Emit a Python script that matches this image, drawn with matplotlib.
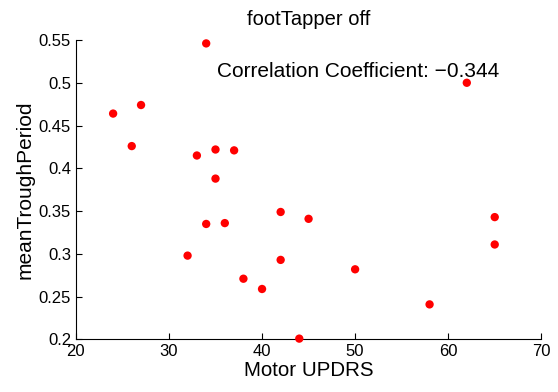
import matplotlib.pyplot as plt

plt.rcParams['font.family'] = ['Liberation Sans', 'DejaVu Sans']

# Motor UPDRS vs mean trough period (foot tapper, off medication)
updrs = [34, 24, 27, 26, 33, 35, 37, 35, 62, 42, 45,
         34, 36, 32, 42, 38, 40, 44, 50, 58, 65, 65]
trough = [0.546, 0.464, 0.474, 0.426, 0.415, 0.422, 0.421, 0.388, 0.500, 0.349, 0.341,
          0.335, 0.336, 0.298, 0.293, 0.271, 0.259, 0.201, 0.282, 0.241, 0.343, 0.311]
corr = -0.344
xticks = [20, 30, 40, 50, 60, 70]
yticks = [0.2, 0.25, 0.3, 0.35, 0.4, 0.45, 0.5, 0.55]
ytick_labels = ['0.2', '0.25', '0.3', '0.35', '0.4', '0.45', '0.5', '0.55']

fig = plt.figure(figsize=(5.58, 3.92), dpi=100)
ax = fig.add_axes([0.136, 0.134, 0.834, 0.764])

ax.scatter(updrs, trough, s=36, color='red', edgecolors='none', zorder=3, clip_on=False)

ax.set_xlim(20, 70)
ax.set_ylim(0.2, 0.55)
ax.set_xticks(xticks)
ax.set_yticks(yticks)
ax.set_yticklabels(ytick_labels)
ax.tick_params(direction='in', length=4, labelsize=12, width=0.8)
for side in ['top', 'right']:
    ax.spines[side].set_visible(False)

ax.set_xlabel('Motor UPDRS', fontsize=14.8, labelpad=1)
ax.set_ylabel('meanTroughPeriod', fontsize=15, labelpad=3)
ax.set_title('footTapper off', fontsize=14.5, pad=11)
ax.text(35.2, 0.513, 'Correlation Coefficient: \u2212%.3f' % abs(corr),
        fontsize=15, va='center', ha='left')

fig.savefig('out.png', dpi=100)
